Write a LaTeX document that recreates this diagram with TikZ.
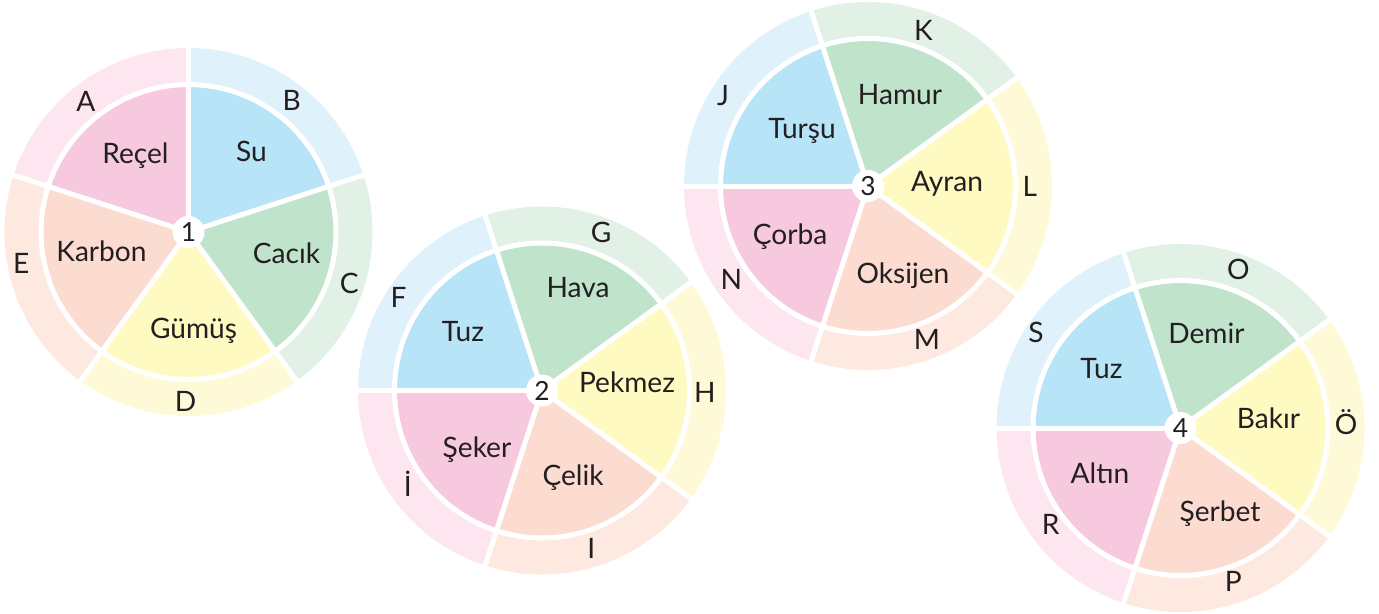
\documentclass[tikz,border=0pt]{standalone}
\usepackage{fontspec}
\setmainfont{Lato}
\definecolor{pieblue}{HTML}{B8E4F8}
\definecolor{ringblue}{HTML}{DFF2FC}
\definecolor{piegreen}{HTML}{C0E3CC}
\definecolor{ringgreen}{HTML}{E1F1E6}
\definecolor{pieyellow}{HTML}{FFF9C2}
\definecolor{ringyellow}{HTML}{FEFAD8}
\definecolor{piepeach}{HTML}{FCDCD0}
\definecolor{ringpeach}{HTML}{FDE9E0}
\definecolor{piepink}{HTML}{F7C9DE}
\definecolor{ringpink}{HTML}{FDE6F0}
\definecolor{textdark}{HTML}{231F20}

\begin{document}
\begin{tikzpicture}[
  x=0.02cm, y=0.02cm,
  word/.style={font=\fontsize{16}{18}\selectfont, text=textdark, text height=1.42ex, text depth=0pt, inner sep=0pt},
  letter/.style={word},
  hub/.style={circle, fill=white, minimum size=0.64cm, inner sep=0pt, font=\fontsize{15}{17}\selectfont, text=textdark},
  gap/.style={white, line width=0.1cm}
]
\useasboundingbox (0,0) rectangle (1379,613);

% Wheel 1
\begin{scope}[shift={(188.5,381)}]
  \foreach \s/\c in {18/blue, -54/green, -126/yellow, 162/peach, 90/pink}{
    \fill[ring\c] (0,0) -- (\s:184) arc[start angle=\s, delta angle=72, radius=184] -- cycle;
    \fill[pie\c] (0,0) -- (\s:145) arc[start angle=\s, delta angle=72, radius=145] -- cycle;
  }
  \draw[gap] (0,0) circle[radius=147.5];
  \foreach \s in {18, -54, -126, 162, 90}
    \draw[gap] (0,0) -- (\s:186);
  \node[hub] (num1) at (0,0) {1};
  \node[word] (recel) at (-53,75) {Reçel};
  \node[word] (su) at (63,77) {Su};
  \node[word] (cacik) at (98,-25) {Cacık};
  \node[word] (gumus) at (5,-100) {Gümüş};
  \node[word] (karbon) at (-87,-23) {Karbon};
  \node[letter] (a) at (129:163) {A};
  \node[letter] (b) at (51:164) {B};
  \node[letter] (c) at (-19:170) {C};
  \node[letter] (d) at (-91:173) {D};
  \node[letter] (e) at (192:171) {E};
\end{scope}

% Wheel 2
\begin{scope}[shift={(542,222.5)}]
  \foreach \s/\c in {108/blue, 36/green, -36/yellow, -108/peach, 180/pink}{
    \fill[ring\c] (0,0) -- (\s:184) arc[start angle=\s, delta angle=72, radius=184] -- cycle;
    \fill[pie\c] (0,0) -- (\s:145) arc[start angle=\s, delta angle=72, radius=145] -- cycle;
  }
  \draw[gap] (0,0) circle[radius=147.5];
  \foreach \s in {108, 36, -36, -108, 180}
    \draw[gap] (0,0) -- (\s:186);
  \node[hub] (num2) at (0,0) {2};
  \node[word] (tuz2) at (-79,55) {Tuz};
  \node[word] (hava) at (36,99) {Hava};
  \node[word] (pekmez) at (85,4) {Pekmez};
  \node[word] (celik) at (31,-89) {Çelik};
  \node[word] (seker) at (-65,-61) {Şeker};
  \node[letter] (f) at (148:169) {F};
  \node[letter] (g) at (69:165) {G};
  \node[letter] (h) at (-2:163) {H};
  \node[letter] (i) at (-73:169) {I};
  \node[letter] (idot) at (216.5:167) {İ};
\end{scope}

% Wheel 3
\begin{scope}[shift={(868,427)}]
  \foreach \s/\c in {108/blue, 36/green, -36/yellow, -108/peach, 180/pink}{
    \fill[ring\c] (0,0) -- (\s:184) arc[start angle=\s, delta angle=72, radius=184] -- cycle;
    \fill[pie\c] (0,0) -- (\s:145) arc[start angle=\s, delta angle=72, radius=145] -- cycle;
  }
  \draw[gap] (0,0) circle[radius=147.5];
  \foreach \s in {108, 36, -36, -108, 180}
    \draw[gap] (0,0) -- (\s:186);
  \node[hub] (num3) at (0,0) {3};
  \node[word] (tursu) at (-66,54) {Turşu};
  \node[word] (hamur) at (32,88) {Hamur};
  \node[word] (ayran) at (79,1) {Ayran};
  \node[word] (oksijen) at (35,-91) {Oksijen};
  \node[word] (corba) at (-78,-52) {Çorba};
  \node[letter] (j) at (149:169) {J};
  \node[letter] (k) at (70:162) {K};
  \node[letter] (l) at (-1.5:162) {L};
  \node[letter] (m) at (-69.5:168) {M};
  \node[letter] (n) at (215.5:168) {N};
\end{scope}

% Wheel 4
\begin{scope}[shift={(1180.5,185)}]
  \foreach \s/\c in {108/blue, 36/green, -36/yellow, -108/peach, 180/pink}{
    \fill[ring\c] (0,0) -- (\s:184) arc[start angle=\s, delta angle=72, radius=184] -- cycle;
    \fill[pie\c] (0,0) -- (\s:145) arc[start angle=\s, delta angle=72, radius=145] -- cycle;
  }
  \draw[gap] (0,0) circle[radius=147.5];
  \foreach \s in {108, 36, -36, -108, 180}
    \draw[gap] (0,0) -- (\s:186);
  \node[hub] (num4) at (0,0) {4};
  \node[word] (tuz4) at (-79,56) {Tuz};
  \node[word] (demir) at (26,91) {Demir};
  \node[word] (bakir) at (88,6) {Bakır};
  \node[word] (serbet) at (39.5,-87) {Şerbet};
  \node[word] (altin) at (-80.5,-49) {Altın};
  \node[letter] (s) at (147.7:171) {S};
  \node[letter] (o) at (69.5:165) {O};
  \node[letter] (oum) at (0:165.5) {Ö};
  \node[letter] (p) at (-71.4:165.6) {P};
  \node[letter] (r) at (217.7:164) {R};
\end{scope}

\end{tikzpicture}
\end{document}
